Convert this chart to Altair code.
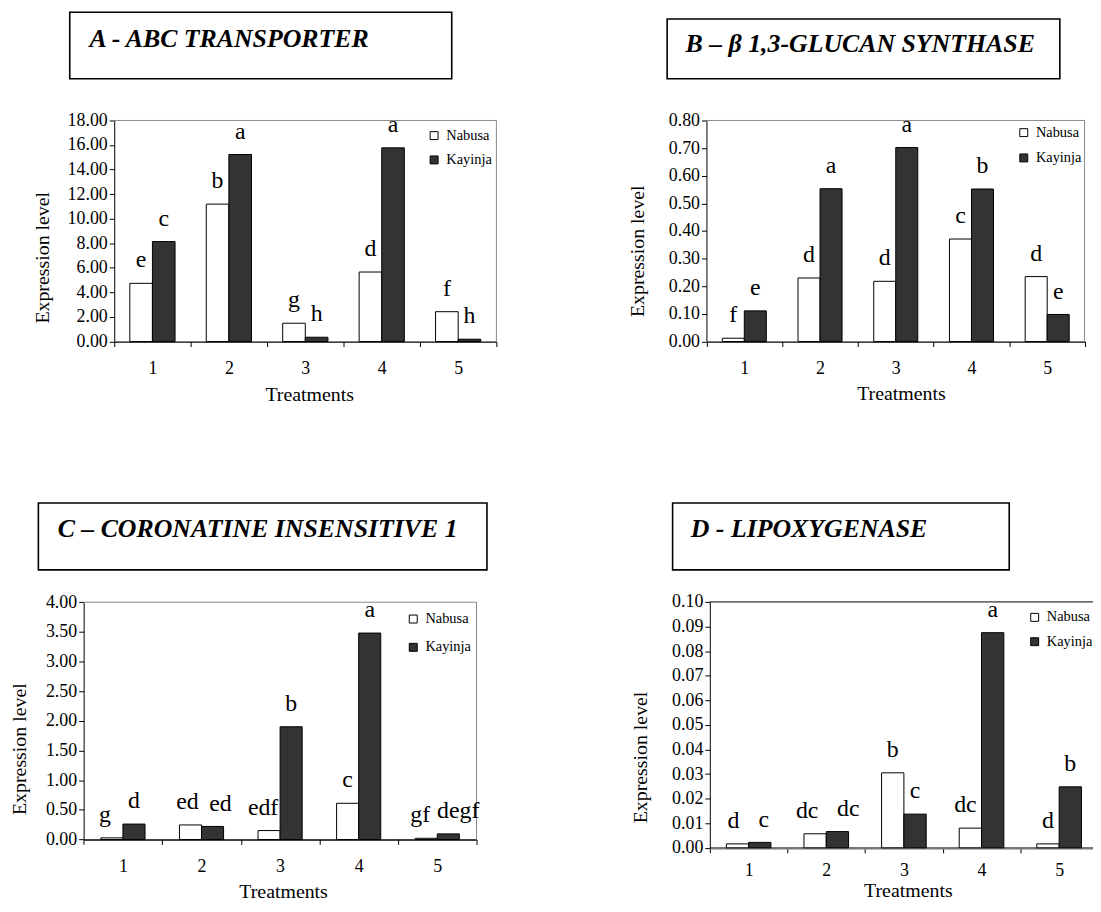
import altair as alt
import pandas as pd

# ---------------- data ----------------
treatments = ["1", "2", "3", "4", "5"]
varieties = ["Nabusa", "Kayinja"]

a_title = "A - ABC TRANSPORTER"
a_nabusa = [4.74, 11.19, 1.49, 5.66, 2.43]
a_kayinja = [8.14, 15.23, 0.35, 15.77, 0.19]
a_lab_nabusa = ["e", "b", "g", "d", "f"]
a_lab_kayinja = ["c", "a", "h", "a", "h"]
a_ticks = [0, 2, 4, 6, 8, 10, 12, 14, 16, 18]

b_title = "B – β 1,3-GLUCAN SYNTHASE"
b_nabusa = [0.012, 0.230, 0.218, 0.371, 0.235]
b_kayinja = [0.111, 0.553, 0.702, 0.552, 0.098]
b_lab_nabusa = ["f", "d", "d", "c", "d"]
b_lab_kayinja = ["e", "a", "a", "b", "e"]
b_ticks = [0.0, 0.1, 0.2, 0.3, 0.4, 0.5, 0.6, 0.7, 0.8]

c_title = "C – CORONATINE INSENSITIVE 1"
c_nabusa = [0.027, 0.245, 0.150, 0.610, 0.020]
c_kayinja = [0.260, 0.220, 1.900, 3.480, 0.094]
c_lab_nabusa = ["g", "ed", "edf", "c", "gf"]
c_lab_kayinja = ["d", "ed", "b", "a", "degf"]
c_ticks = [0.0, 0.5, 1.0, 1.5, 2.0, 2.5, 3.0, 3.5, 4.0]

d_title = "D - LIPOXYGENASE"
d_nabusa = [0.0016, 0.0057, 0.0305, 0.0080, 0.0016]
d_kayinja = [0.0022, 0.0066, 0.0137, 0.0875, 0.0248]
d_lab_nabusa = ["d", "dc", "b", "dc", "d"]
d_lab_kayinja = ["c", "dc", "c", "a", "b"]
d_ticks = [0.00, 0.01, 0.02, 0.03, 0.04, 0.05, 0.06, 0.07, 0.08, 0.09, 0.10]

FONT = "Liberation Serif"
TOTAL_W, TOTAL_H = 1093, 896   # whole drawing area, starting at the 8px page margin


def panel(title, nab, kay, lab_n, lab_k, ticks, g):
    df = pd.DataFrame({
        "Treatment": treatments * 2,
        "Variety": [varieties[0]] * len(treatments) + [varieties[1]] * len(treatments),
        "Value": nab + kay,
        "Label": lab_n + lab_k,
    })
    tdf = pd.DataFrame({"title": [title]})

    x_enc = alt.X(
        "Treatment:N", sort=treatments,
        scale=alt.Scale(range=[g["left"], g["right"]], paddingInner=0, paddingOuter=0),
        axis=alt.Axis(orient="bottom", offset=-(TOTAL_H - g["bottom"]),
                      title="Treatments", labelAngle=0, tickBand="extent", tickSize=5,
                      labelPadding=g.get("xlp", 27), labelBaseline="alphabetic",
                      labelFontSize=18,
                      titleFontSize=20, titleX=g["xtx"], titleY=g["xty"],
                      titleBaseline="alphabetic", titleAlign="center",
                      domainColor=g["xdc"], domainWidth=g["xdw"]),
    )
    y_enc = alt.Y(
        "Value:Q",
        scale=alt.Scale(domain=[ticks[0], ticks[-1]], range=[g["bottom"], g["top"]],
                        nice=False, zero=True),
        axis=alt.Axis(orient="left", offset=-g["left"], title="Expression level",
                      values=ticks, format=".2f", tickSize=5, labelPadding=2,
                      labelFontSize=18, titleFontSize=20, titleX=g["ytx"],
                      titleY=g["yty"], titleBaseline="bottom", titleAlign="center"),
    )
    xo_enc = alt.XOffset("Variety:N", sort=varieties,
                         scale=alt.Scale(paddingInner=0, paddingOuter=g["p"]))

    bars = alt.Chart(df).mark_bar(stroke="black", strokeWidth=1).encode(
        x=x_enc, y=y_enc, xOffset=xo_enc,
        color=alt.Color(
            "Variety:N",
            scale=alt.Scale(domain=varieties, range=["white", "#333333"]),
            legend=alt.Legend(title=None, orient="none", legendX=g["lx"], legendY=g["ly"],
                              symbolType="square", symbolSize=64,
                              symbolStrokeColor="black", symbolStrokeWidth=1,
                              labelFont=FONT, labelFontSize=14.5, labelColor="black",
                              rowPadding=g["rp"], labelOffset=5, padding=0),
        ),
    )

    # letter labels; a few are nudged sideways as in the original figure
    nudges = g.get("nudges", {})
    keep = " && ".join(
        f"!(datum.Treatment == '{t}' && datum.Variety == '{v}')" for (t, v) in nudges
    ) or "true"
    label_layers = [
        alt.Chart(df).transform_filter(keep).mark_text(
            font=FONT, fontSize=24, baseline="alphabetic", dy=-16, color="black"
        ).encode(x=x_enc, y=y_enc, xOffset=xo_enc, text="Label:N")
    ]
    for (t, v), dx in nudges.items():
        label_layers.append(
            alt.Chart(df).transform_filter(
                f"datum.Treatment == '{t}' && datum.Variety == '{v}'"
            ).mark_text(font=FONT, fontSize=24, baseline="alphabetic", dy=-16, dx=dx,
                        color="black").encode(x=x_enc, y=y_enc, xOffset=xo_enc,
                                              text="Label:N")
        )

    box = alt.Chart(tdf).mark_rect(fill="white", fillOpacity=0, stroke="black",
                                   strokeWidth=1.6).encode(
        x=alt.value(g["bx0"]), x2=alt.value(g["bx1"]),
        y=alt.value(g["by0"]), y2=alt.value(g["by1"]))
    ttl = alt.Chart(tdf).mark_text(font=FONT, fontSize=26, fontWeight="bold",
                                   fontStyle="italic", align="left",
                                   baseline="alphabetic", color="black").encode(
        x=alt.value(g["tx"]), y=alt.value(g["ty"]), text="title:N")

    layers = [box, ttl]
    layers.append(alt.Chart(tdf).mark_rule(color=g["fc"], strokeWidth=1).encode(
        x=alt.value(g["left"]), x2=alt.value(g["frame_right"]), y=alt.value(g["top"])))
    if g.get("right_border", True):
        layers.append(alt.Chart(tdf).mark_rule(color=g["fc"], strokeWidth=1).encode(
            x=alt.value(g["frame_right"]), y=alt.value(g["top"]),
            y2=alt.value(g["bottom"])))
    layers += [bars] + label_layers

    return alt.layer(*layers)


# panel geometry, in pixels of the drawing area
gA = dict(left=107, right=492, frame_right=492, top=110, bottom=332.7, p=0.69,
          ytx=-62.4, yty=247.8, xtx=303.4, xty=59.3, xdc="black", xdw=1.2,
          lx=422, ly=118, rp=9.5,
          bx0=62.2, bx1=447, by0=0.9, by1=68, tx=82, ty=36, fc="#888888")
gB = dict(left=703.6, right=1085, frame_right=1084.5, top=110, bottom=332.7, p=0.72,
          ytx=-59.6, yty=241.2, xtx=899.5, xty=58.6, xdc="black", xdw=1.2,
          lx=1016, ly=115, rp=10.5,
          bx0=664, bx1=1059.6, by0=7.7, by1=68, tx=682.5, ty=41.3, fc="#888888")
gC = dict(left=76.2, right=472, frame_right=472, top=595.3, bottom=834.3, p=0.78,
          ytx=-55, yty=742.8, xtx=277.1, xty=58, xdc="black", xdw=1.5,
          lx=401, ly=605, rp=13.5,
          bx0=30.6, bx1=482.5, by0=495.3, by1=562.7, tx=50, ty=529.3, fc="#888888",
          nudges={("1", "Nabusa"): -7, ("2", "Nabusa"): -3, ("2", "Kayinja"): 8,
                  ("3", "Nabusa"): -6, ("5", "Nabusa"): -6, ("5", "Kayinja"): 10})
gD = dict(left=707, right=1098, frame_right=1093, top=595, bottom=842.7, p=0.74,
          ytx=-59.6, yty=751.2, xtx=906.5, xty=49, xlp=23, xdc="#777777", xdw=2.5,
          lx=1027, ly=603.3, rp=9.5,
          bx0=669.5, bx1=1008.6, by0=495.3, by1=562.7, tx=687.8, ty=529.3,
          fc="black", right_border=False,
          nudges={("1", "Nabusa"): -4, ("1", "Kayinja"): 4, ("2", "Nabusa"): -8,
                  ("2", "Kayinja"): 11, ("4", "Nabusa"): -5})

pA = panel(a_title, a_nabusa, a_kayinja, a_lab_nabusa, a_lab_kayinja, a_ticks, gA)
pB = panel(b_title, b_nabusa, b_kayinja, b_lab_nabusa, b_lab_kayinja, b_ticks, gB)
pC = panel(c_title, c_nabusa, c_kayinja, c_lab_nabusa, c_lab_kayinja, c_ticks, gC)
pD = panel(d_title, d_nabusa, d_kayinja, d_lab_nabusa, d_lab_kayinja, d_ticks, gD)

chart = alt.layer(pA, pB, pC, pD).resolve_scale(
    color="independent", x="independent", y="independent", xOffset="independent"
).resolve_axis(x="independent", y="independent").resolve_legend(
    color="independent"
).properties(
    width=TOTAL_W, height=TOTAL_H,
    padding={"left": 0, "top": 0, "right": 0, "bottom": 0},
    autosize=alt.AutoSizeParams(type="none"),
    background="white",
    view=alt.ViewBackground(stroke="transparent"),
).configure_axis(
    labelFont=FONT, titleFont=FONT, labelColor="black", titleColor="black",
    titleFontWeight="normal", grid=False, tickColor="black", domainColor="black",
).configure_text(font=FONT)

chart.save("out.html", embed_options={"renderer": "svg", "actions": False})
